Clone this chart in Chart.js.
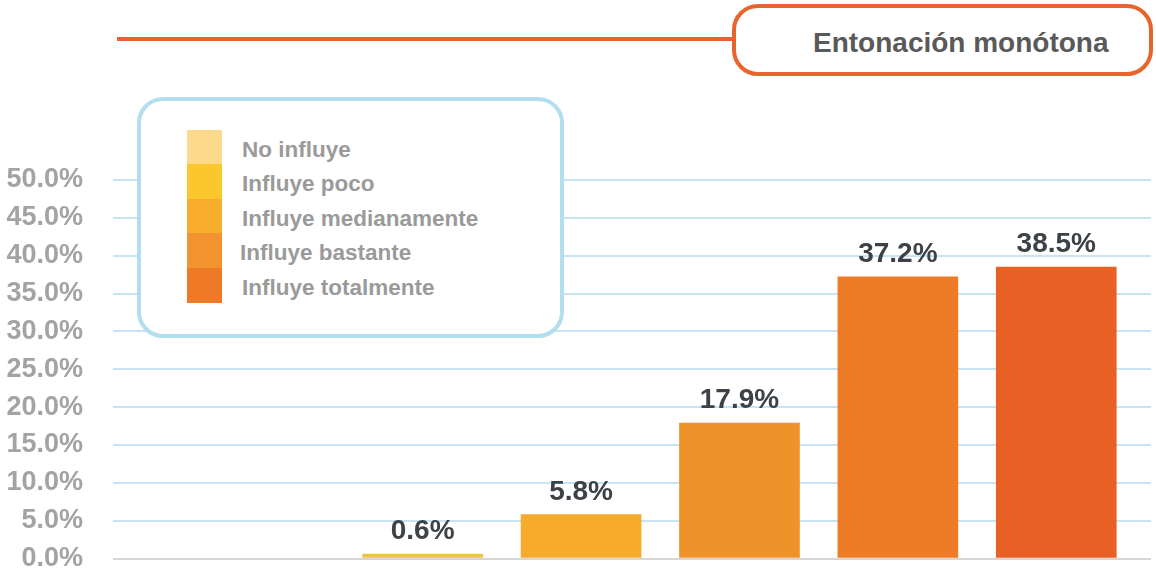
<!DOCTYPE html>
<html>
<head>
<meta charset="utf-8">
<script src="https://cdn.jsdelivr.net/npm/chart.js@4/dist/chart.umd.min.js"></script>
<style>
  body { margin: 0; background: #fff; }
  #wrap { position: relative; width: 1156px; height: 572px; font-family: "Liberation Sans", Arial, sans-serif; }
  #chartBox { position: absolute; left: 0; top: 0; width: 1156px; height: 572px; }
  #titleLine { position: absolute; left: 117px; top: 37px; width: 618px; height: 4px; background: #E8642C; }
  #titleBox {
    position: absolute; left: 732px; top: 4px; width: 421px; height: 72px; box-sizing: border-box;
    border: 4px solid #E8642C; border-radius: 26px; background: #fff;
    font-weight: bold; font-size: 28px; color: #595959; line-height: 69px; padding-left: 77px;
  }
  #legendBox {
    position: absolute; left: 137px; top: 97px; width: 427px; height: 241px; box-sizing: border-box;
    border: 4px solid #B3DEF0; border-radius: 26px; background: #fff;
  }
  .sw { position: absolute; left: 187px; width: 35px; height: 35px; }
  .lb { position: absolute; left: 242px; font-weight: bold; font-size: 22.5px; color: #9A9A9A; white-space: nowrap; line-height: 26px; }
</style>
</head>
<body>
<div id="wrap">
  <div id="chartBox"><canvas id="salesChart"></canvas></div>
  <div id="titleLine"></div>
  <div id="titleBox">Entonación monótona</div>
  <div id="legendBox"></div>
  <div id="legendItems"></div>
</div>
<script>
// chart data
const categories = ["No influye", "Influye poco", "Influye medianamente", "Influye bastante", "Influye totalmente"];
const values = [0.6, 5.8, 17.9, 37.2, 38.5];
const yTicks = [0, 5, 10, 15, 20, 25, 30, 35, 40, 45, 50];

// colours
const barColors = ["#EEC446", "#F6AB2D", "#F0922A", "#EE7C26", "#E96024"];
const legendColors = ["#FDD98B", "#FCC62D", "#F8AE2C", "#F29330", "#EE7926"];

// LEGEND (html, built from categories)
document.getElementById("legendItems").innerHTML = categories.map((name, i) => {
    return `
    <div class="sw" style="top:${130 + i * 34.4}px;background:${legendColors[i]}"></div>
    <div class="lb" style="top:${137 + i * 34.4}px;${i == 3 ? 'left:240px;' : ''}">${name}</div>
    `
}).join("");

// value labels above bars
const valueLabels = {
    id: "valueLabels",
    afterDatasetsDraw(chart) {
        const ctx = chart.ctx;
        const meta = chart.getDatasetMeta(0);
        ctx.save();
        ctx.font = "bold 28px 'Liberation Sans', Arial, sans-serif";
        ctx.fillStyle = "#3C4247";
        ctx.textAlign = "center";
        ctx.textBaseline = "alphabetic";
        meta.data.forEach((bar, i) => {
            ctx.fillText(values[i].toFixed(1) + "%", bar.x, bar.y - 15);
        });
        ctx.restore();
    }
};

const ctx = document.getElementById("salesChart").getContext("2d");
new Chart(ctx, {
    type: "bar",
    data: {
        labels: categories,
        datasets: [{
            label: "Entonación monótona",
            data: values.map((v, i) => ({ x: i + 1, y: v })),
            backgroundColor: barColors,
            borderWidth: 0,
            barThickness: 120
        }]
    },
    options: {
        responsive: true,
        maintainAspectRatio: false,
        animation: false,
        layout: { padding: { top: 180, bottom: 0, left: 0, right: 5 } },
        plugins: { legend: { display: false }, tooltip: { enabled: false } },
        scales: {
            x: {
                type: "linear",
                min: -0.955,
                max: 5.598,
                offset: false,
                display: false
            },
            y: {
                min: 0,
                max: 50,
                afterBuildTicks: (scale) => { scale.ticks = yTicks.map(v => ({ value: v })); },
                afterFit: (scale) => { scale.width = 113; },
                border: { display: false },
                grid: {
                    drawTicks: true,
                    tickLength: 30,
                    tickColor: "rgba(0,0,0,0)",
                    lineWidth: 2,
                    color: (c) => c.tick && c.tick.value === 0 ? "#D6D6D6" : "#C6E4F1"
                },
                ticks: {
                    padding: 0,
                    color: "#A3A3A3",
                    font: { family: "'Liberation Sans', Arial, sans-serif", size: 27, weight: "bold", lineHeight: 1 },
                    callback: (v) => v.toFixed(1) + "%"
                }
            }
        }
    },
    plugins: [valueLabels]
});
</script>
</body>
</html>
